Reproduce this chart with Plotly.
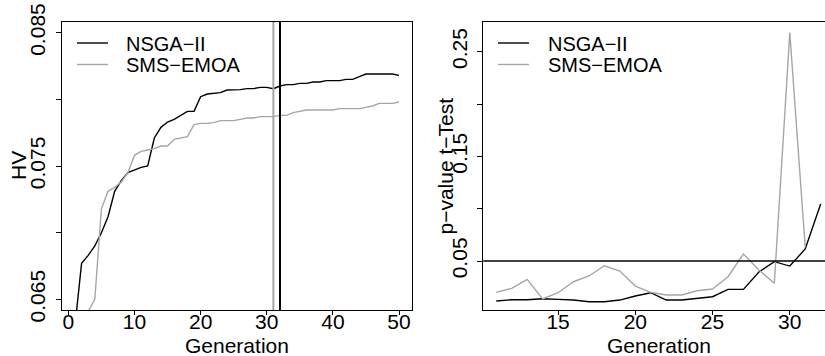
import plotly.graph_objects as go

# ---- data -------------------------------------------------------------
gen_hv = list(range(1, 51))
nsga_hv = [0.0630, 0.0677, 0.0683, 0.0690, 0.0700, 0.0712, 0.0731, 0.0739, 0.0745, 0.0747,
           0.0749, 0.0750, 0.0771, 0.0779, 0.0783, 0.0785, 0.0788, 0.0791, 0.0791, 0.0802,
           0.0804, 0.08045, 0.0805, 0.0807, 0.0807, 0.08073, 0.0808, 0.0808, 0.0809, 0.0809,
           0.0808, 0.0810, 0.0811, 0.0811, 0.0812, 0.0812, 0.0813, 0.0813, 0.0814, 0.0814,
           0.0814, 0.0815, 0.0815, 0.0817, 0.0819, 0.0819, 0.0819, 0.0819, 0.0819, 0.0818]
sms_hv = [0.0626, 0.0633, 0.0641, 0.0650, 0.0718, 0.0731, 0.0734, 0.0738, 0.0745, 0.0758,
          0.0761, 0.0762, 0.0763, 0.0765, 0.0765, 0.0770, 0.0771, 0.0772, 0.0781, 0.0782,
          0.0782, 0.07825, 0.0784, 0.0784, 0.0784, 0.0785, 0.0786, 0.0786, 0.0787, 0.0787,
          0.0787, 0.0788, 0.0788, 0.0790, 0.0791, 0.0792, 0.0792, 0.0792, 0.0792, 0.0792,
          0.0793, 0.0793, 0.0793, 0.0793, 0.0794, 0.0795, 0.0797, 0.0797, 0.0797, 0.0798]

gen_p_nsga = list(range(11, 33))
nsga_p = [0.0118, 0.0130, 0.0130, 0.0140, 0.0134, 0.0127, 0.0111, 0.0111, 0.0127, 0.0166,
          0.0197, 0.0127, 0.0127, 0.0140, 0.0159, 0.0229, 0.0229, 0.0395, 0.0494, 0.0452,
          0.0615, 0.1045]
gen_p_sms = list(range(11, 32))
sms_p = [0.0201, 0.0239, 0.0325, 0.0138, 0.0197, 0.0302, 0.0357, 0.0455, 0.0404, 0.0261,
         0.0201, 0.0175, 0.0175, 0.0216, 0.0232, 0.0350, 0.0567, 0.0414, 0.0287, 0.2682,
         0.0630]

# generation at which each algorithm is marked, and the significance level
mark_sms = 31
mark_nsga = 32
alpha = 0.05

series_names = ["NSGA\u2212II", "SMS\u2212EMOA"]

hv_ticks = [0.065, 0.070, 0.075, 0.080, 0.085]
hv_labels = ["0.065", "", "0.075", "", "0.085"]
p_ticks = [0.05, 0.10, 0.15, 0.20, 0.25]
p_labels = ["0.05", "", "0.15", "", "0.25"]
gen_ticks_hv = [0, 10, 20, 30, 40, 50]
gen_ticks_p = [15, 20, 25, 30]

# ---- layout geometry (pixels) ----------------------------------------
W, H = 825, 356
FONT = "Liberation Sans, Arial, Helvetica, sans-serif"
BLACK = "#000000"
GREY = "#a6a6a6"
colors = [BLACK, GREY]


def px_x(v):
    return v / W


def px_y(v):
    return 1 - v / H


fig = go.Figure()

fig.add_trace(go.Scatter(x=gen_hv, y=nsga_hv, mode="lines", name=series_names[0],
                         line=dict(color=BLACK, width=1.4), xaxis="x", yaxis="y"))
fig.add_trace(go.Scatter(x=gen_hv, y=sms_hv, mode="lines", name=series_names[1],
                         line=dict(color=GREY, width=1.4), xaxis="x", yaxis="y"))
fig.add_trace(go.Scatter(x=gen_p_nsga, y=nsga_p, mode="lines", name=series_names[0],
                         line=dict(color=BLACK, width=1.4), xaxis="x2", yaxis="y2"))
fig.add_trace(go.Scatter(x=gen_p_sms, y=sms_p, mode="lines", name=series_names[1],
                         line=dict(color=GREY, width=1.4), xaxis="x2", yaxis="y2"))

# vertical markers on the HV panel, horizontal alpha line on the p-value panel
fig.add_shape(type="line", xref="x", yref="y domain", x0=mark_sms, x1=mark_sms, y0=0, y1=1,
              line=dict(color=GREY, width=2))
fig.add_shape(type="line", xref="x", yref="y domain", x0=mark_nsga, x1=mark_nsga, y0=0, y1=1,
              line=dict(color=BLACK, width=2))
fig.add_shape(type="line", xref="x2 domain", yref="y2", x0=0, x1=1, y0=alpha, y1=alpha,
              line=dict(color=BLACK, width=1.5))

tickfont = dict(family=FONT, size=21, color=BLACK)
common_x = dict(showgrid=False, zeroline=False, showline=True, linecolor=BLACK, linewidth=1.3,
                ticks="outside", ticklen=4, tickwidth=1.3, tickcolor=BLACK, tickfont=tickfont,
                ticklabelstandoff=-11, automargin=False)
common_y = dict(showgrid=False, zeroline=False, showline=True, linecolor=BLACK, linewidth=1.3,
                ticks="outside", ticklen=5, tickwidth=1.3, tickcolor=BLACK, tickfont=tickfont,
                tickangle=-90, ticklabelstandoff=2, automargin=False)

fig.update_layout(
    width=W, height=H,
    margin=dict(l=0, r=0, t=0, b=0, pad=0, autoexpand=False),
    paper_bgcolor="white", plot_bgcolor="white",
    font=dict(family=FONT, color=BLACK),
    xaxis=dict(domain=[px_x(62), px_x(412)], range=[-0.96, 51.96], anchor="y",
               tickvals=gen_ticks_hv, mirror=True, **common_x),
    yaxis=dict(domain=[px_y(310), px_y(22)], range=[0.0642, 0.0858], anchor="x",
               tickvals=hv_ticks, ticktext=hv_labels, mirror=True, **common_y),
    xaxis2=dict(domain=[px_x(483.3), 1.0], range=[10.16, 32.28], anchor="y2",
                tickvals=gen_ticks_p, mirror=True, **common_x),
    yaxis2=dict(domain=[px_y(310), px_y(22)], range=[0.0032, 0.2784], anchor="x2",
                tickvals=p_ticks, ticktext=p_labels, mirror=False, **common_y),
    showlegend=False,
)

# legend keys for each panel: short line sample followed by the series name
legend_font = dict(family=FONT, size=20, color=BLACK)
for x_line, x_text in [(77, 124), (498, 545.7)]:
    for name, col, y_row in zip(series_names, colors, [43, 64.5]):
        fig.add_shape(type="line", xref="paper", yref="paper",
                      x0=px_x(x_line), x1=px_x(x_line + 31), y0=px_y(y_row), y1=px_y(y_row),
                      line=dict(color=col, width=1.4))
        fig.add_annotation(text=name, xref="paper", yref="paper",
                           x=px_x(x_text), y=px_y(y_row + 1), xanchor="left",
                           yanchor="middle", showarrow=False, font=legend_font)

title_font = dict(family=FONT, size=21, color=BLACK)
fig.add_annotation(text="Generation", xref="paper", yref="paper", x=px_x(237), y=px_y(345),
                   xanchor="center", yanchor="middle", showarrow=False, font=title_font)
fig.add_annotation(text="Generation", xref="paper", yref="paper", x=px_x(658.6), y=px_y(345),
                   xanchor="center", yanchor="middle", showarrow=False, font=title_font)
fig.add_annotation(text="HV", xref="paper", yref="paper", x=px_x(19), y=px_y(166),
                   xanchor="center", yanchor="middle", showarrow=False, textangle=-90,
                   font=title_font)
fig.add_annotation(text="p\u2212value t\u2212Test", xref="paper", yref="paper",
                   x=px_x(445.5), y=px_y(166), xanchor="center", yanchor="middle",
                   showarrow=False, textangle=-90, font=title_font)

fig.write_html("out.html")
